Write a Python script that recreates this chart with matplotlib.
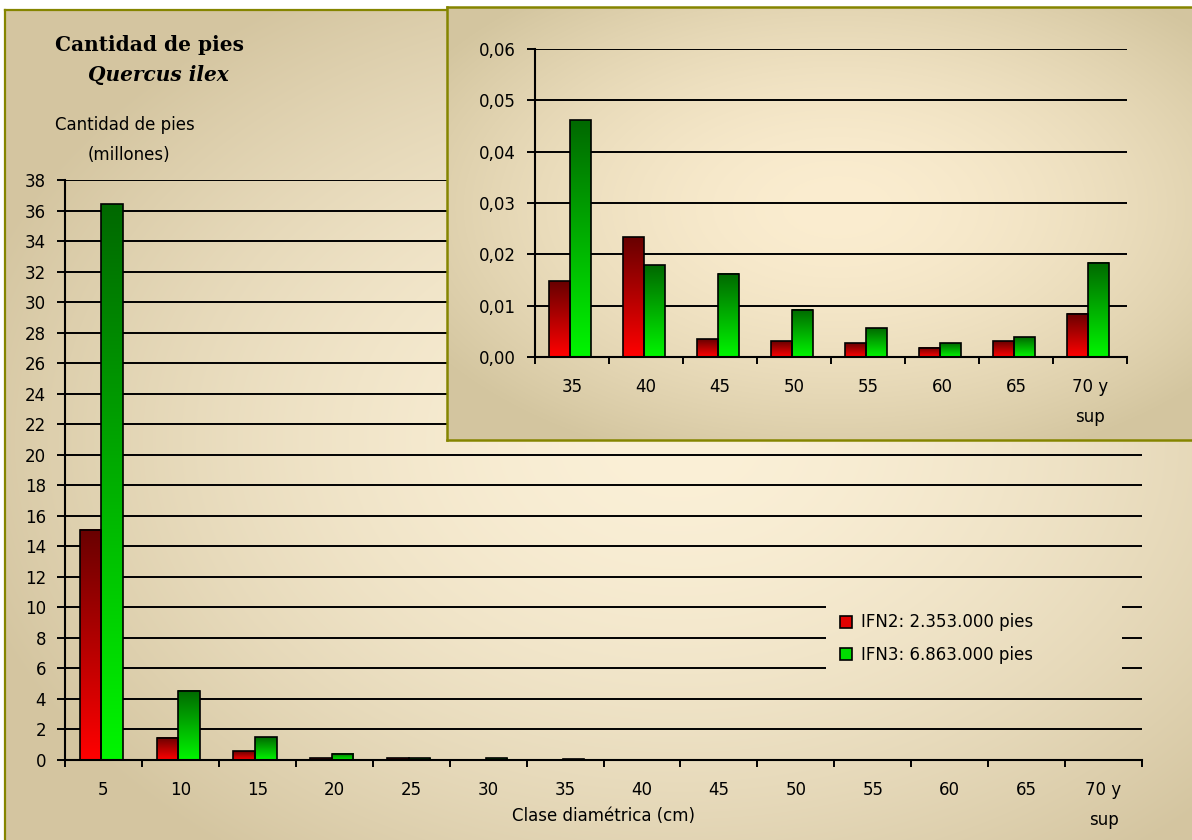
import numpy as np
import matplotlib
matplotlib.use("Agg")
import matplotlib.pyplot as plt
from matplotlib.lines import Line2D

# diameter classes (cm) and number of trees in millions, IFN2 vs IFN3
categories = ['5', '10', '15', '20', '25', '30', '35', '40', '45', '50',
              '55', '60', '65', '70 y\nsup']
ifn2 = [15.1, 1.45, 0.58, 0.12, 0.1, 0.02, 0.0148, 0.0233, 0.0035, 0.0031,
        0.0027, 0.0018, 0.0031, 0.0084]
ifn3 = [36.4, 4.55, 1.48, 0.42, 0.12, 0.1, 0.0461, 0.0179, 0.0162, 0.0092,
        0.0056, 0.0027, 0.0038, 0.0184]
inset_from = 6  # classes from 35 cm upwards get their own zoomed chart

legend_labels = ['IFN2: 2.353.000 pies', 'IFN3: 6.863.000 pies']

W, H = 1192, 840
OLIVE = '#858500'
FONT = 'DejaVu Sans'
FS = 12


def panel_gradient(w, h, cx, cy, c_in, c_out, power=1.7):
    yy, xx = np.mgrid[0:h, 0:w]
    d = np.sqrt(((xx - cx) / (0.62 * w)) ** 2 + ((yy - cy) / (0.62 * h)) ** 2)
    t = np.clip(d, 0, 1) ** power
    c_in = np.array(c_in) / 255.0
    c_out = np.array(c_out) / 255.0
    return c_in + (c_out - c_in) * t[..., None]


def bar_gradient(top, bottom, n=64):
    t = np.linspace(0, 1, n)[:, None, None]
    top = np.array(top) / 255.0
    bottom = np.array(bottom) / 255.0
    return top + (bottom - top) * t


RED_GRAD = bar_gradient((105, 0, 0), (255, 0, 0))
GREEN_GRAD = bar_gradient((0, 105, 0), (0, 245, 0))


def draw_bars(ax, values_red, values_green, ymax, yticks, yfmt):
    x = np.arange(len(values_red))
    bars_r = ax.bar(x - 0.31, values_red, width=0.28, align='edge',
                    facecolor='none', edgecolor='black', lw=1.2, zorder=3)
    bars_g = ax.bar(x - 0.03, values_green, width=0.28, align='edge',
                    facecolor='none', edgecolor='black', lw=1.2, zorder=3)
    for bars, grad in ((bars_r, RED_GRAD), (bars_g, GREEN_GRAD)):
        for rect in bars:
            x0, w, h = rect.get_x(), rect.get_width(), rect.get_height()
            ax.imshow(grad, extent=(x0, x0 + w, 0, h), aspect='auto',
                      interpolation='bilinear', zorder=2)
    ax.set_xlim(-0.5, len(x) - 0.5)
    ax.set_ylim(0, ymax)
    ax.set_facecolor('none')
    ax.set_axisbelow(True)
    ax.yaxis.grid(True, color='black', lw=1.4)
    for s in ('top', 'right'):
        ax.spines[s].set_visible(False)
    for s in ('left', 'bottom'):
        ax.spines[s].set_linewidth(1.5)
    ax.set_yticks(yticks)
    ax.set_yticklabels([yfmt(v) for v in yticks], fontsize=FS, family=FONT)
    ax.tick_params(axis='y', direction='out', length=5.5, width=1.4, pad=8)
    # tick marks between classes, labels centred under each class
    ax.set_xticks(np.arange(len(x) + 1) - 0.5)
    ax.set_xticklabels([])
    ax.tick_params(axis='x', which='major', direction='out', length=5,
                   width=1.4)
    ax.set_xticks(x, minor=True)
    ax.tick_params(axis='x', which='minor', length=0, pad=15)


fig = plt.figure(figsize=(W / 100, H / 100), dpi=100)

# page background with its olive frame
bg_img = panel_gradient(W, H, 680, 440, (251, 240, 215), (212, 197, 160))
bg_img[:10, :, :] = 1.0
bg_img[:, :5, :] = 1.0
bg = fig.add_axes([0, 0, 1, 1], zorder=0)
bg.imshow(bg_img, extent=(0, W, H, 0), aspect='auto')
bg.plot([5, 5], [10, H], color=OLIVE, lw=1.6)
bg.plot([5, 447], [10, 10], color=OLIVE, lw=1.6)
bg.set_xlim(0, W)
bg.set_ylim(H, 0)
bg.axis('off')

# main chart
ax = fig.add_axes([65 / W, 1 - 760 / H, (1142 - 65) / W, (760 - 180) / H],
                  zorder=2)
draw_bars(ax, ifn2, ifn3, 38, np.arange(0, 39, 2), lambda v: f'{v:d}')
ax.set_xticklabels(categories, minor=True, fontsize=FS, family=FONT,
                   linespacing=1.9, va='top')

fig.text(55 / W, 1 - 45 / H, 'Cantidad de pies', family='DejaVu Serif',
         weight='bold', fontsize=14.5, va='center', ha='left')
fig.text(88 / W, 1 - 75 / H, 'Quercus ilex', family='DejaVu Serif',
         weight='bold', style='italic', fontsize=14.5, va='center', ha='left')
fig.text(55 / W, 1 - 125 / H, 'Cantidad de pies', family=FONT,
         fontsize=FS, va='center', ha='left')
fig.text(88 / W, 1 - 155 / H, '(millones)', family=FONT,
         fontsize=FS, va='center', ha='left')
fig.text(604 / W, 1 - 816 / H, 'Clase diamétrica (cm)', family=FONT,
         fontsize=FS, va='center', ha='center')

# zoomed panel for the large diameter classes
px0, py0, py1 = 447, 7, 440
panel = fig.add_axes([px0 / W, 1 - py1 / H, (W - px0 + 20) / W, (py1 - py0) / H],
                     zorder=3)
panel_img = panel_gradient(W - px0 + 20, py1 - py0, 390, 200,
                           (251, 237, 208), (212, 198, 160))
panel.imshow(panel_img, aspect='auto', extent=(0, 1, 0, 1))
panel.set_xticks([])
panel.set_yticks([])
for s in panel.spines.values():
    s.set_color(OLIVE)
    s.set_linewidth(1.8)

inset = fig.add_axes([535 / W, 1 - 357 / H, (1127 - 535) / W, (357 - 49) / H],
                     zorder=4)
draw_bars(inset, ifn2[inset_from:], ifn3[inset_from:], 0.06,
          np.round(np.arange(0, 0.061, 0.01), 2),
          lambda v: f'{v:.2f}'.replace('.', ','))
inset.set_xticklabels(categories[inset_from:], minor=True, fontsize=FS,
                      family=FONT, linespacing=1.9, va='top')

# legend sits on a patch of the page background, hiding the grid lines
lx0, lx1, ly0, ly1 = 826, 1122, 592, 685
leg_ax = fig.add_axes([lx0 / W, 1 - ly1 / H, (lx1 - lx0) / W, (ly1 - ly0) / H],
                      zorder=5)
leg_ax.imshow(bg_img[ly0:ly1, lx0:lx1], aspect='auto', extent=(0, 1, 0, 1))
leg_ax.axis('off')
handles = [
    Line2D([], [], ls='none', marker='s', markersize=8.5,
           markerfacecolor='#e00000', markeredgecolor='black', mew=1.2),
    Line2D([], [], ls='none', marker='s', markersize=8.5,
           markerfacecolor='#00dd00', markeredgecolor='black', mew=1.2),
]
leg_ax.legend(handles, legend_labels, loc='center left', frameon=False,
              prop={'family': FONT, 'size': FS}, handlelength=0.8,
              handletextpad=0.5, labelspacing=0.85, borderaxespad=0.4)

fig.savefig('out.png', dpi=100)
